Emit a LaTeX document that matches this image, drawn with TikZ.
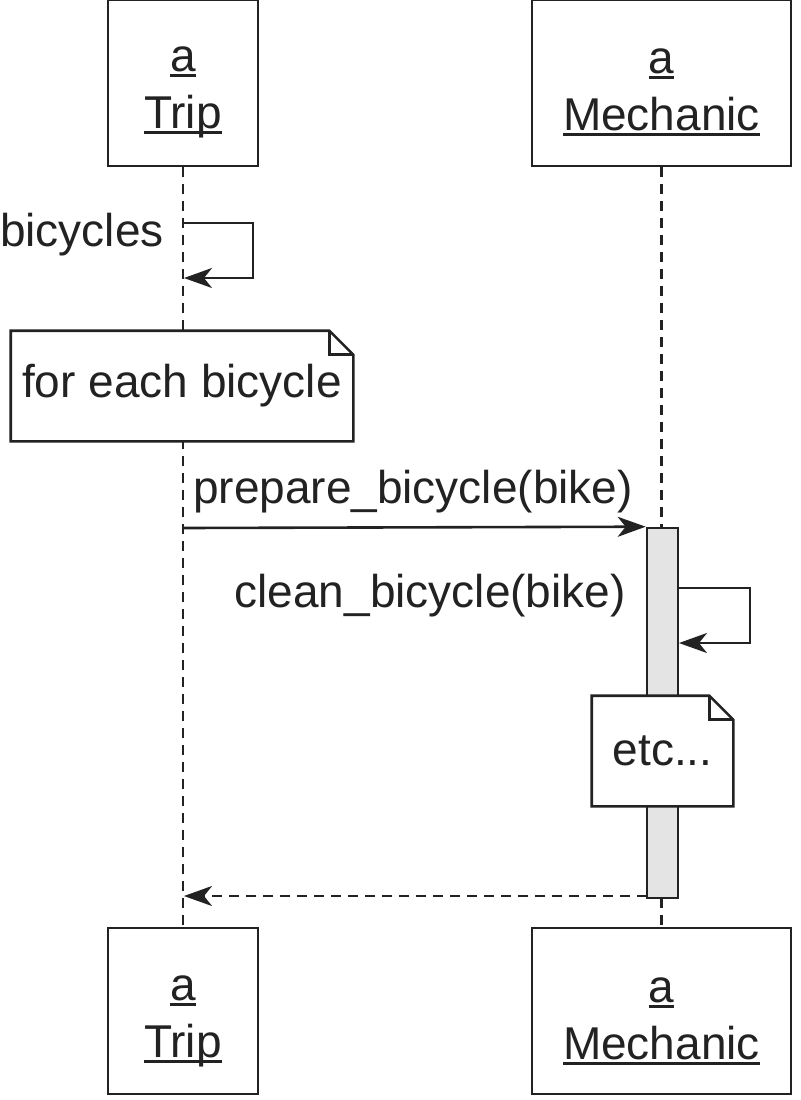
\documentclass[tikz,border=0pt]{standalone}
\usepackage{fontspec}
\setmainfont{Liberation Sans}
\usetikzlibrary{arrows.meta}
\newcommand\ulx[1]{\setbox0\hbox{#1}\rlap{\rule[-0.12em]{\wd0}{0.06em}}\box0}
\definecolor{ink}{HTML}{222222}
\definecolor{actfill}{HTML}{E4E4E4}
\begin{document}
\begin{tikzpicture}[x=0.5pt,y=-0.5pt, line width=1.3pt, draw=ink, text=ink,
  font=\fontsize{23}{28.5}\selectfont,
  obj/.style={draw, fill=white, minimum width=#1, minimum height=83pt, inner sep=0pt},
  lbl/.style={align=center, inner sep=0pt},
  life/.style={dash pattern=on 5pt off 3.5pt, line width=1.1pt},
  msg/.style={-{Stealth[length=14pt,width=10pt,inset=4pt]}},
  ret/.style={msg, dash pattern=on 5pt off 3.5pt},
  txt/.style={inner sep=0pt},
  notebox/.style={fill=white, inner sep=0pt, minimum height=54pt},
  actbox/.style={draw, fill=actfill, inner sep=0pt, minimum width=15.5pt, minimum height=185pt}
  ]
\useasboundingbox (0,0) rectangle (800,1100);
% object boxes
\node[obj=75pt] (tripT) at (183,83) {};
\node[obj=129.5pt] (mechT) at (661.5,83) {};
\node[obj=75pt] (tripB) at (183,1011) {};
\node[obj=129.5pt] (mechB) at (661.5,1011) {};
\node[lbl] (tripTl) at (183,92) {\ulx{a}\\\ulx{Trip}};
\node[lbl] (mechTl) at (661.5,92) {\ulx{a}\\\ulx{Mechanic}};
\node[lbl] (tripBl) at (183,1021) {\ulx{a}\\\ulx{Trip}};
\node[lbl] (mechBl) at (661.5,1021) {\ulx{a}\\\ulx{Mechanic}};
% lifelines
\draw[life] (tripT.south) -- (tripB.north);
\draw[life] (mechT.south) -- (mechB.north);
% self message bicycles
\coordinate (l1s) at (183,223);
\coordinate (l1a) at (253,223);
\coordinate (l1b) at (253,278);
\coordinate (l1e) at (184,278);
\draw[msg] (l1s) -- (l1a) -- (l1b) -- (l1e);
\node[txt, anchor=base east] (bicl) at (165,246) {bicycles};
% note 1
\node[notebox, minimum width=170pt] (note1) at (182,386) {for each bicycle};
\draw (note1.north west) -- ([xshift=-12pt]note1.north east) -- ([yshift=-12pt]note1.north east) -- (note1.south east) -- (note1.south west) -- cycle;
\draw ([xshift=-12pt]note1.north east) |- ([yshift=-12pt]note1.north east);
% activation bar
\node[actbox] (act) at (662.5,713) {};
% prepare message
\coordinate (m1s) at (183,528);
\draw[msg] (m1s) -- (act.north west);
\node[txt, anchor=base] (m1l) at (413,503) {prepare\_bicycle(bike)};
% clean self message
\coordinate (l2s) at (678,588);
\coordinate (l2a) at (750,588);
\coordinate (l2b) at (750,643);
\coordinate (l2e) at (679,643);
\draw[msg] (l2s) -- (l2a) -- (l2b) -- (l2e);
\node[txt, anchor=base east] (m2l) at (627,607) {clean\_bicycle(bike)};
% note 2
\node[notebox, minimum width=69.5pt] (note2) at (662.5,751) {etc...};
\draw (note2.north west) -- ([xshift=-12pt]note2.north east) -- ([yshift=-12pt]note2.north east) -- (note2.south east) -- (note2.south west) -- cycle;
\draw ([xshift=-12pt]note2.north east) |- ([yshift=-12pt]note2.north east);
% return
\coordinate (r1s) at (647,896);
\coordinate (r1e) at (184,896);
\draw[ret] (r1s) -- (r1e);
\end{tikzpicture}
\end{document}
